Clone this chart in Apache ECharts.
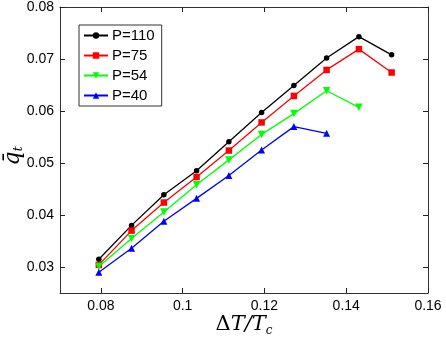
<!DOCTYPE html>
<html>
<head>
<meta charset="utf-8">
<script src="https://cdn.jsdelivr.net/npm/echarts@6/dist/echarts.min.js"></script>
<style>
  html, body { margin: 0; padding: 0; background: #fff; }
  #chart { width: 446px; height: 337px; }
</style>
</head>
<body>
<div id="chart"></div>
<script>
// x positions (ΔT/Tc)
var xVals = [0.0795, 0.0875, 0.0954, 0.1034, 0.1113, 0.1193, 0.1272, 0.1352, 0.1431, 0.1511];

// mean q_t for each P
var p110 = [0.0315, 0.0380, 0.0439, 0.0485, 0.0541, 0.0597, 0.0649, 0.0702, 0.0743, 0.0708];
var p75 = [0.0304, 0.0370, 0.0424, 0.0473, 0.0524, 0.0578, 0.0629, 0.0679, 0.0719, 0.0674];
var p54 = [0.0301, 0.0355, 0.0406, 0.0458, 0.0506, 0.0555, 0.0595, 0.0639, 0.0607];
var p40 = [0.0290, 0.0336, 0.0388, 0.0432, 0.0476, 0.0525, 0.0570, 0.0557];

var seriesNames = ["P=110", "P=75", "P=54", "P=40"];

// tick positions
var xTicks = [0.08, 0.1, 0.12, 0.14, 0.16];
var yTicks = [0.03, 0.04, 0.05, 0.06, 0.07, 0.08];

function pairs(ys) {
  return ys.map(function (y, i) { return [xVals[i], y]; });
}

var myChart = echarts.init(document.getElementById("chart"));

var frameLine = { show: true, onZero: false, lineStyle: { color: "#333", width: 1 } };

function tickStyle(vals) {
  return { show: true, inside: true, length: 5, customValues: vals, lineStyle: { color: "#222", width: 1 } };
}

var labelBase = { fontFamily: "Liberation Sans", fontSize: 14, color: "#000", margin: 6 };

var option = {
  animation: false,
  grid: { left: 60, right: 18, top: 7, bottom: 44, containLabel: false, outerBoundsMode: "none" },
  legend: {
    left: 79,
    top: 25,
    orient: "vertical",
    data: seriesNames,
    itemWidth: 24,
    itemHeight: 8,
    itemGap: 5,
    padding: [3, 7, 3, 4],
    borderColor: "#333",
    borderWidth: 1,
    backgroundColor: "#fff",
    textStyle: { fontFamily: "Liberation Sans", fontSize: 15, color: "#000", padding: [0, 0, 0, -1] }
  },
  xAxis: [
    {
      type: "value",
      min: 0.07,
      max: 0.16,
      axisLine: frameLine,
      axisTick: tickStyle(xTicks),
      splitLine: { show: false },
      axisLabel: Object.assign({}, labelBase, {
        customValues: xTicks,
        formatter: function (v) { return String(parseFloat(v.toFixed(2))); }
      }),
      name: "{d|Δ}{i|T/T}{s|c}",
      nameLocation: "middle",
      nameMoveOverlap: false,
      nameGap: 20,
      nameTextStyle: {
        rich: {
          d: { fontFamily: "DejaVu Serif", fontSize: 21, color: "#000" },
          i: { fontFamily: "DejaVu Serif", fontStyle: "italic", fontSize: 21, color: "#000" },
          s: { fontFamily: "DejaVu Serif", fontStyle: "italic", fontSize: 12, color: "#000", padding: [12, 0, 0, 0] }
        }
      }
    },
    {
      type: "value",
      position: "top",
      min: 0.07,
      max: 0.16,
      axisLine: frameLine,
      axisTick: tickStyle(xTicks),
      axisLabel: { show: false, customValues: xTicks },
      splitLine: { show: false }
    }
  ],
  yAxis: [
    {
      type: "value",
      min: 0.025,
      max: 0.08,
      axisLine: frameLine,
      axisTick: tickStyle(yTicks),
      splitLine: { show: false },
      axisLabel: Object.assign({}, labelBase, {
        customValues: yTicks,
        formatter: function (v) { return v.toFixed(2); }
      }),
      name: "{i|q\u0304}{s|t}",
      nameLocation: "middle",
      nameMoveOverlap: false,
      nameRotate: 90,
      nameGap: 35,
      nameTextStyle: {
        padding: [0, 12, 0, 0],
        rich: {
          i: { fontFamily: "DejaVu Serif", fontStyle: "italic", fontSize: 22, color: "#000" },
          s: { fontFamily: "DejaVu Serif", fontStyle: "italic", fontSize: 12, color: "#000", padding: [12, 0, 0, 0] }
        }
      }
    },
    {
      type: "value",
      position: "right",
      min: 0.025,
      max: 0.08,
      axisLine: frameLine,
      axisTick: tickStyle(yTicks),
      axisLabel: { show: false, customValues: yTicks },
      splitLine: { show: false }
    }
  ],
  series: [
    {
      name: "P=110", type: "line", data: pairs(p110),
      symbol: "circle", symbolSize: 5.5,
      itemStyle: { color: "#000000" }, lineStyle: { width: 1.3 }
    },
    {
      name: "P=75", type: "line", data: pairs(p75),
      symbol: "rect", symbolSize: 6.5,
      itemStyle: { color: "#ff0000" }, lineStyle: { width: 1.3 }
    },
    {
      name: "P=54", type: "line", data: pairs(p54),
      symbol: "triangle", symbolRotate: 180, symbolSize: 7.5,
      itemStyle: { color: "#00ff00" }, lineStyle: { width: 1.3 }
    },
    {
      name: "P=40", type: "line", data: pairs(p40),
      symbol: "triangle", symbolSize: 7,
      itemStyle: { color: "#0000ff" }, lineStyle: { width: 1.3 }
    }
  ]
};

myChart.setOption(option);
</script>
</body>
</html>
